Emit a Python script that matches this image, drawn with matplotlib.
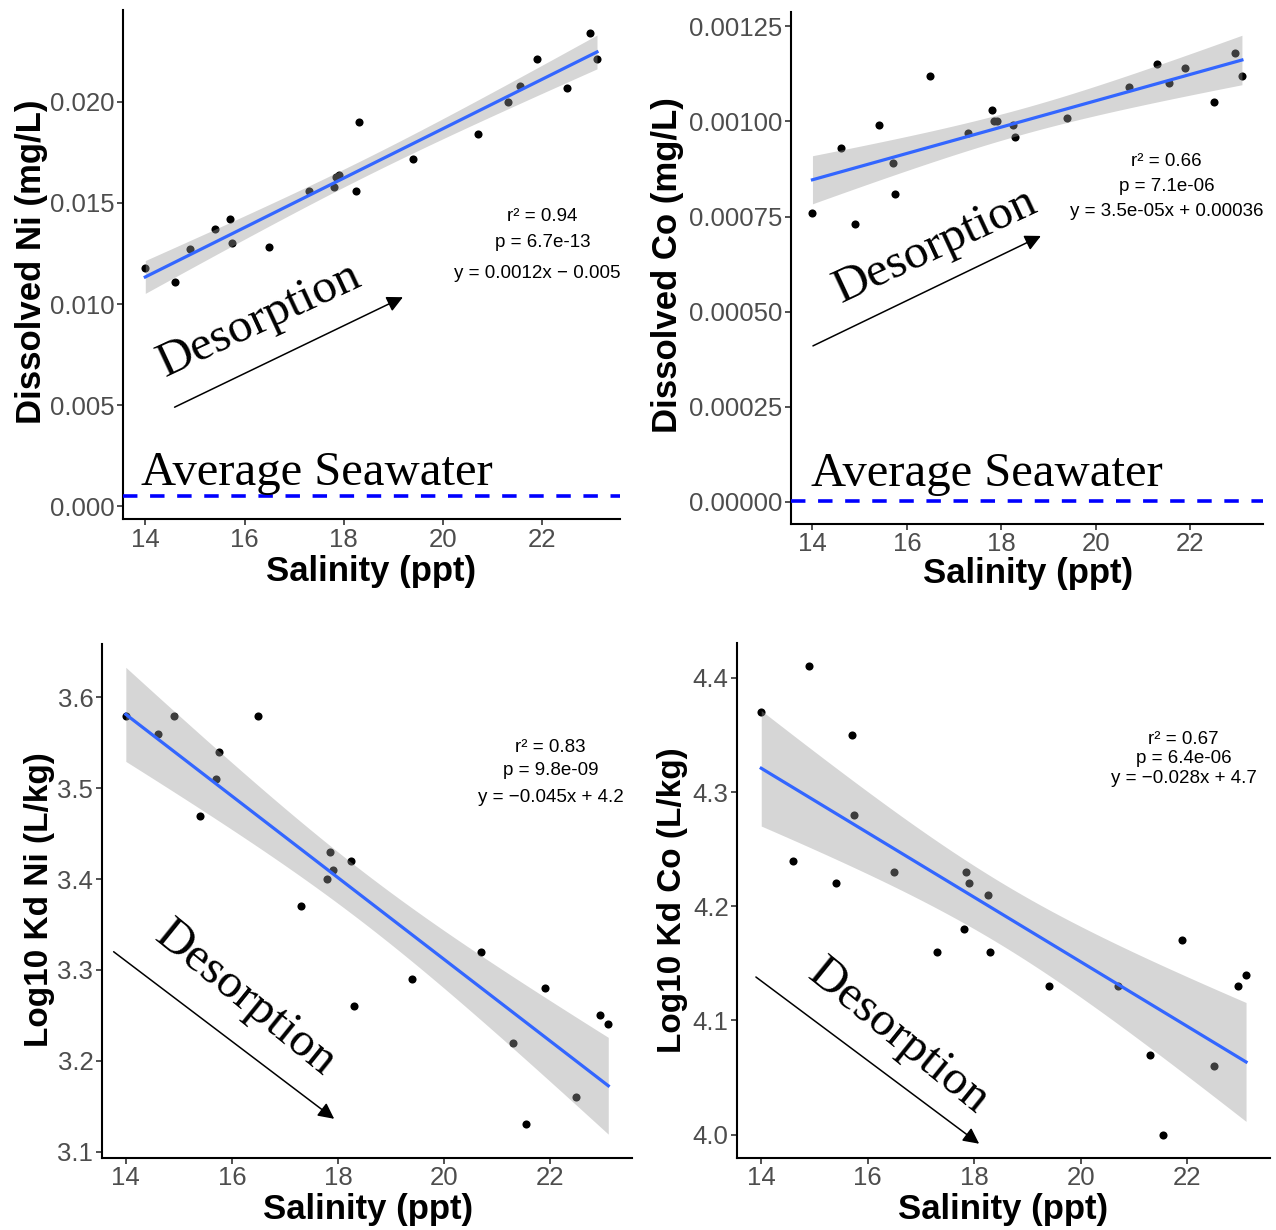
import numpy as np
import matplotlib
matplotlib.use('Agg')
import matplotlib.pyplot as plt

# Salinity (ppt) of the 21 samples, shared by all four panels
salinity = np.array([14.0, 14.6, 14.9, 15.4, 15.7, 15.75, 16.5, 17.3, 17.8, 17.85, 17.9,
                     18.25, 18.3, 19.4, 20.7, 21.3, 21.55, 21.9, 22.5, 22.95, 23.1])

# Dissolved metals (mg/L)
ni_dissolved = np.array([0.0118, 0.0111, 0.0127, 0.0137, 0.0142, 0.0130, 0.0128, 0.0156, 0.0158,
                         0.0163, 0.0164, 0.0156, 0.0190, 0.0172, 0.0184, 0.0200, 0.0208, 0.0221,
                         0.0207, 0.0234, 0.0221])
co_dissolved = np.array([0.00076, 0.00093, 0.00073, 0.00099, 0.00089, 0.00081, 0.00112, 0.00097,
                         0.00103, 0.00100, 0.00100, 0.00099, 0.00096, 0.00101, 0.00109, 0.00115,
                         0.00110, 0.00114, 0.00105, 0.00118, 0.00112])

# Log10 Kd (L/kg)
kd_ni = np.array([3.58, 3.56, 3.58, 3.47, 3.51, 3.54, 3.58, 3.37, 3.40, 3.43, 3.41,
                  3.42, 3.26, 3.29, 3.32, 3.22, 3.13, 3.28, 3.16, 3.25, 3.24])
kd_co = np.array([4.37, 4.24, 4.41, 4.22, 4.35, 4.28, 4.23, 4.16, 4.18, 4.23, 4.22,
                  4.21, 4.16, 4.13, 4.13, 4.07, 4.00, 4.17, 4.06, 4.13, 4.14])

# average seawater reference levels (mg/L)
seawater_ni = 0.0005
seawater_co = 0.000003

x_ticks = [14, 16, 18, 20, 22]
ni_ticks = [0.000, 0.005, 0.010, 0.015, 0.020]
co_ticks = [0.0, 0.00025, 0.00050, 0.00075, 0.00100, 0.00125]
kd_ni_ticks = [3.1, 3.2, 3.3, 3.4, 3.5, 3.6]
kd_co_ticks = [4.0, 4.1, 4.2, 4.3, 4.4]

stats_ni = ['r² = 0.94', 'p = 6.7e-13', 'y = 0.0012x − 0.0057']
stats_co = ['r² = 0.66', 'p = 7.1e-06', 'y = 3.5e-05x + 0.00036']
stats_kd_ni = ['r² = 0.83', 'p = 9.8e-09', 'y = −0.045x + 4.2']
stats_kd_co = ['r² = 0.67', 'p = 6.4e-06', 'y = −0.028x + 4.7']

T_CRIT = 2.093  # t(0.975, df=19)
W, H = 1276, 1230
SANS = 'Liberation Sans'
SERIF = 'Liberation Serif'


def fit_band(x, y, n=80):
    slope, icpt = np.polyfit(x, y, 1)
    xs = np.linspace(x.min(), x.max(), n)
    resid = y - (slope * x + icpt)
    s = np.sqrt(np.sum(resid ** 2) / (len(x) - 2))
    se = s * np.sqrt(1 / len(x) + (xs - x.mean()) ** 2 / np.sum((x - x.mean()) ** 2))
    fit = slope * xs + icpt
    return xs, fit, fit - T_CRIT * se, fit + T_CRIT * se


def gg_limits(vals):
    lo, hi = np.min(vals), np.max(vals)
    pad = 0.05 * (hi - lo)
    return lo - pad, hi + pad


panels = [
    dict(y=ni_dissolved, box=(122.7, 10, 619.6, 519.3), yticks=ni_ticks, fmt='{:.3f}',
         ylabel='Dissolved Ni (mg/L)', xl=(371, 571), yl=(32, 262), ylsize=25,
         hline=seawater_ni, avg=(17.46, 0.00104),
         arrow=((14.59, 0.0049), (19.19, 0.01034)), des=(16.3, 0.0092, 25),
         stats=stats_ni, sx=22.0, sy=[0.01434, 0.01307, 0.01151]),
    dict(y=co_dissolved, box=(791, 12, 1263.4, 524), yticks=co_ticks, fmt='{:.5f}',
         ylabel='Dissolved Co (mg/L)', xl=(1028, 574), yl=(667, 265), ylsize=25,
         hline=seawater_co, avg=(17.69, 0.000042),
         arrow=((14.01, 0.00041), (18.84, 0.000699)), des=(16.6, 0.000672, 25),
         stats=stats_co, sx=21.5, sy=[0.000896, 0.00083, 0.000763]),
    dict(y=kd_ni, box=(101.7, 644, 632.4, 1157.5), yticks=kd_ni_ticks, fmt='{:.1f}',
         ylabel='Log10 Kd Ni (L/kg)', xl=(368, 1209), yl=(40, 900), ylsize=24,
         hline=None, avg=None,
         arrow=((13.77, 3.320), (17.93, 3.136)), des=(16.25, 3.268, -39),
         stats=stats_kd_ni, sx=22.01, sy=[3.545, 3.520, 3.490]),
    dict(y=kd_co, box=(737, 643, 1270.3, 1158), yticks=kd_co_ticks, fmt='{:.1f}',
         ylabel='Log10 Kd Co (L/kg)', xl=(1003, 1209), yl=(672, 900), ylsize=24,
         hline=None, avg=None,
         arrow=((13.90, 4.138), (18.09, 3.992)), des=(16.57, 4.0855, -39),
         stats=stats_kd_co, sx=21.93, sy=[4.346, 4.329, 4.3115]),
]

fig = plt.figure(figsize=(W / 100, H / 100), dpi=100)

for p in panels:
    l, t, r, b = p['box']
    ax = fig.add_axes([l / W, 1 - b / H, (r - l) / W, (b - t) / H])

    xs, fit, lo, hi = fit_band(salinity, p['y'])

    # points first, then the smoother on top (ggplot order)
    ax.scatter(salinity, p['y'], s=34, color='black', lw=0, zorder=2)
    ax.fill_between(xs, lo, hi, color='#999999', alpha=0.4, lw=0, zorder=3)
    ax.plot(xs, fit, color='#3366FF', lw=2.3, zorder=4)

    yvals = list(p['y']) + list(lo) + list(hi)
    if p['hline'] is not None:
        ax.axhline(p['hline'], color='#0000FF', lw=2.6, ls=(0, (4, 3.5)), zorder=4)
        yvals.append(p['hline'])
        ax.text(p['avg'][0], p['avg'][1], 'Average Seawater', family=SERIF, fontsize=35,
                ha='center', va='baseline', zorder=5)

    ax.set_xlim(*gg_limits(salinity))
    ax.set_ylim(*gg_limits(yvals))

    # arrow + Desorption label
    (x0, y0), (x1, y1) = p['arrow']
    ax.annotate('', xy=(x1, y1), xytext=(x0, y0),
                arrowprops=dict(arrowstyle='-|>', color='black', lw=1.1,
                                mutation_scale=24, shrinkA=0, shrinkB=0), zorder=5)
    dx, dy, rot = p['des']
    ax.text(dx, dy, 'Desorption', family=SERIF, fontsize=35.5, rotation=rot,
            rotation_mode='anchor', ha='center', va='center', zorder=5)

    for s, yy in zip(p['stats'], p['sy']):
        ax.text(p['sx'], yy, s, family=SANS, fontsize=13.5, ha='center', va='center',
                clip_on=True, zorder=5)

    # axes styling (classic theme)
    for side in ['top', 'right']:
        ax.spines[side].set_visible(False)
    for side in ['left', 'bottom']:
        ax.spines[side].set_linewidth(1.5)
        ax.spines[side].set_color('black')
    ax.set_xticks(x_ticks)
    ax.set_xticklabels([str(v) for v in x_ticks])
    ax.set_yticks(p['yticks'])
    ax.set_yticklabels([p['fmt'].format(v) for v in p['yticks']])
    ax.tick_params(direction='out', length=4, width=1.2, color='#333333',
                   labelsize=18.5, labelcolor='#4D4D4D', pad=2)
    for lab in ax.get_xticklabels() + ax.get_yticklabels():
        lab.set_family(SANS)

    ax.set_xlabel('Salinity (ppt)', family=SANS, fontweight='bold', fontsize=25)
    ax.xaxis.set_label_coords(p['xl'][0] / W, 1 - p['xl'][1] / H, transform=fig.transFigure)
    ax.xaxis.label.set_va('center')
    ax.set_ylabel(p['ylabel'], family=SANS, fontweight='bold', fontsize=p['ylsize'])
    ax.yaxis.set_label_coords(p['yl'][0] / W, 1 - p['yl'][1] / H, transform=fig.transFigure)
    ax.yaxis.label.set_va('center')
    ax.yaxis.label.set_ha('center')

fig.savefig('out.png', dpi=100)
